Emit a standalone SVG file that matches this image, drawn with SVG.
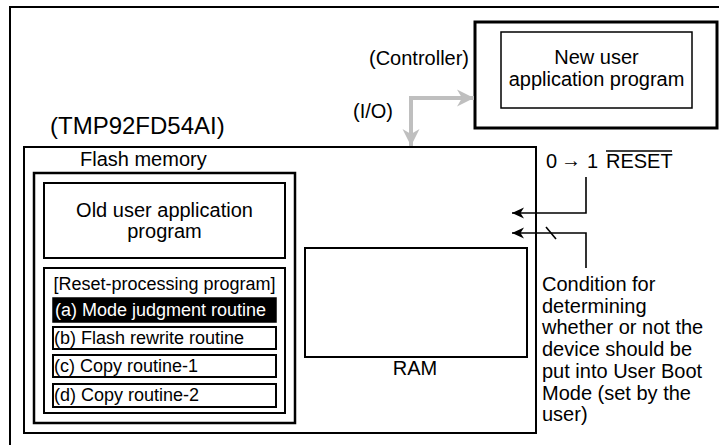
<svg xmlns="http://www.w3.org/2000/svg" width="719" height="445" viewBox="0 0 719 445">
<style>
text{font-family:"Liberation Sans",Arial,sans-serif;fill:#000}
.t20{font-size:20px}
.t18{font-size:18px}
.box{fill:#fff;stroke:#000;stroke-width:2}
.conn{fill:none;stroke:#000;stroke-width:1.6}
.gray{fill:none;stroke:#bfbfbf;stroke-width:4}
</style>
<defs>
<marker id="ah" markerUnits="userSpaceOnUse" markerWidth="14" markerHeight="12" refX="0" refY="0" viewBox="-13 -6 14 12" orient="auto" overflow="visible">
<path d="M0,0 L-12,-5.5 L-8.5,0 L-12,5.5 Z" fill="#000"/>
</marker>
<marker id="gh" markerUnits="userSpaceOnUse" markerWidth="20" markerHeight="20" refX="0" refY="0" viewBox="-18 -9 20 18" orient="auto" overflow="visible">
<path d="M0,0 L-17,-8.5 L-12,0 L-17,8.5 Z" fill="#bfbfbf"/>
</marker>
</defs>
<rect width="719" height="445" fill="#fff"/>
<path d="M10,445 V7 H719" fill="none" stroke="#000" stroke-width="2"/>

<g id="controller">
<rect x="475" y="22" width="242" height="106" fill="#fff" stroke="#000" stroke-width="3"/>
<g id="new-program">
<rect x="501" y="32" width="191" height="76" fill="#fff" stroke="#000" stroke-width="1.5"/>
<text class="t20" x="596.5" y="64" text-anchor="middle">New user</text>
<text class="t20" x="596.5" y="86" text-anchor="middle">application program</text>
</g>
</g>
<text class="t20" x="369" y="65">(Controller)</text>
<text class="t20" x="353" y="118">(I/O)</text>

<g id="chip">
<rect class="box" x="24" y="147" width="512" height="286"/>
<text x="50" y="134" font-size="24">(TMP92FD54AI)</text>
</g>

<g id="flash">
<rect x="34" y="173" width="261" height="250" fill="#fff" stroke="#000" stroke-width="2.5"/>
<text class="t20" x="80" y="166">Flash memory</text>
</g>

<g id="old-program">
<rect class="box" x="44" y="183" width="241" height="75"/>
<text class="t20" x="164.5" y="217" text-anchor="middle">Old user application</text>
<text class="t20" x="164.5" y="238" text-anchor="middle">program</text>
</g>

<g id="reset-processing">
<rect class="box" x="44" y="268" width="241" height="145"/>
<text class="t18" x="164.5" y="290" text-anchor="middle">[Reset-processing program]</text>
</g>
<g id="routine-a">
<rect x="53" y="298" width="223" height="24" fill="#000" stroke="#000" stroke-width="1.5"/>
<text class="t18" x="55" y="316" style="fill:#fff">(a) Mode judgment routine</text>
</g>
<g id="routine-b">
<rect class="box" x="53" y="327" width="223" height="22"/>
<text class="t18" x="54" y="344">(b) Flash rewrite routine</text>
</g>
<g id="routine-c">
<rect class="box" x="53" y="355" width="223" height="22"/>
<text class="t18" x="54" y="372">(c) Copy routine-1</text>
</g>
<g id="routine-d">
<rect class="box" x="53" y="384" width="223" height="23"/>
<text class="t18" x="54" y="401">(d) Copy routine-2</text>
</g>

<g id="ram">
<rect class="box" x="305" y="248" width="222" height="109"/>
<text class="t20" x="415" y="375" text-anchor="middle">RAM</text>
</g>

<g id="reset-label">
<text class="t20" x="546" y="168">0</text>
<text class="t20" x="561" y="167" font-size="18">→</text>
<text class="t20" x="587" y="168">1</text>
<text class="t20" x="606" y="168">RESET</text>
<line x1="606" y1="151" x2="672" y2="151" stroke="#000" stroke-width="1.3"/>
</g>
<g id="condition-label">
<text class="t20" x="542" y="291">Condition for</text>
<text class="t20" x="542" y="312.7">determining</text>
<text class="t20" x="542" y="334.4">whether or not the</text>
<text class="t20" x="542" y="356.1">device should be</text>
<text class="t20" x="542" y="377.8">put into User Boot</text>
<text class="t20" x="542" y="399.5">Mode (set by the</text>
<text class="t20" x="542" y="421.2">user)</text>
</g>

<g id="connectors">
<path class="gray" d="M411,98 V146" marker-end="url(#gh)"/>
<path class="gray" d="M409,98 H474" marker-end="url(#gh)"/>
<path class="conn" d="M586,177 V213 H512" marker-end="url(#ah)"/>
<path class="conn" d="M586,268 V233 H512" marker-end="url(#ah)"/>
<line x1="546" y1="227" x2="556" y2="239" stroke="#000" stroke-width="1.6"/>
</g>
</svg>
